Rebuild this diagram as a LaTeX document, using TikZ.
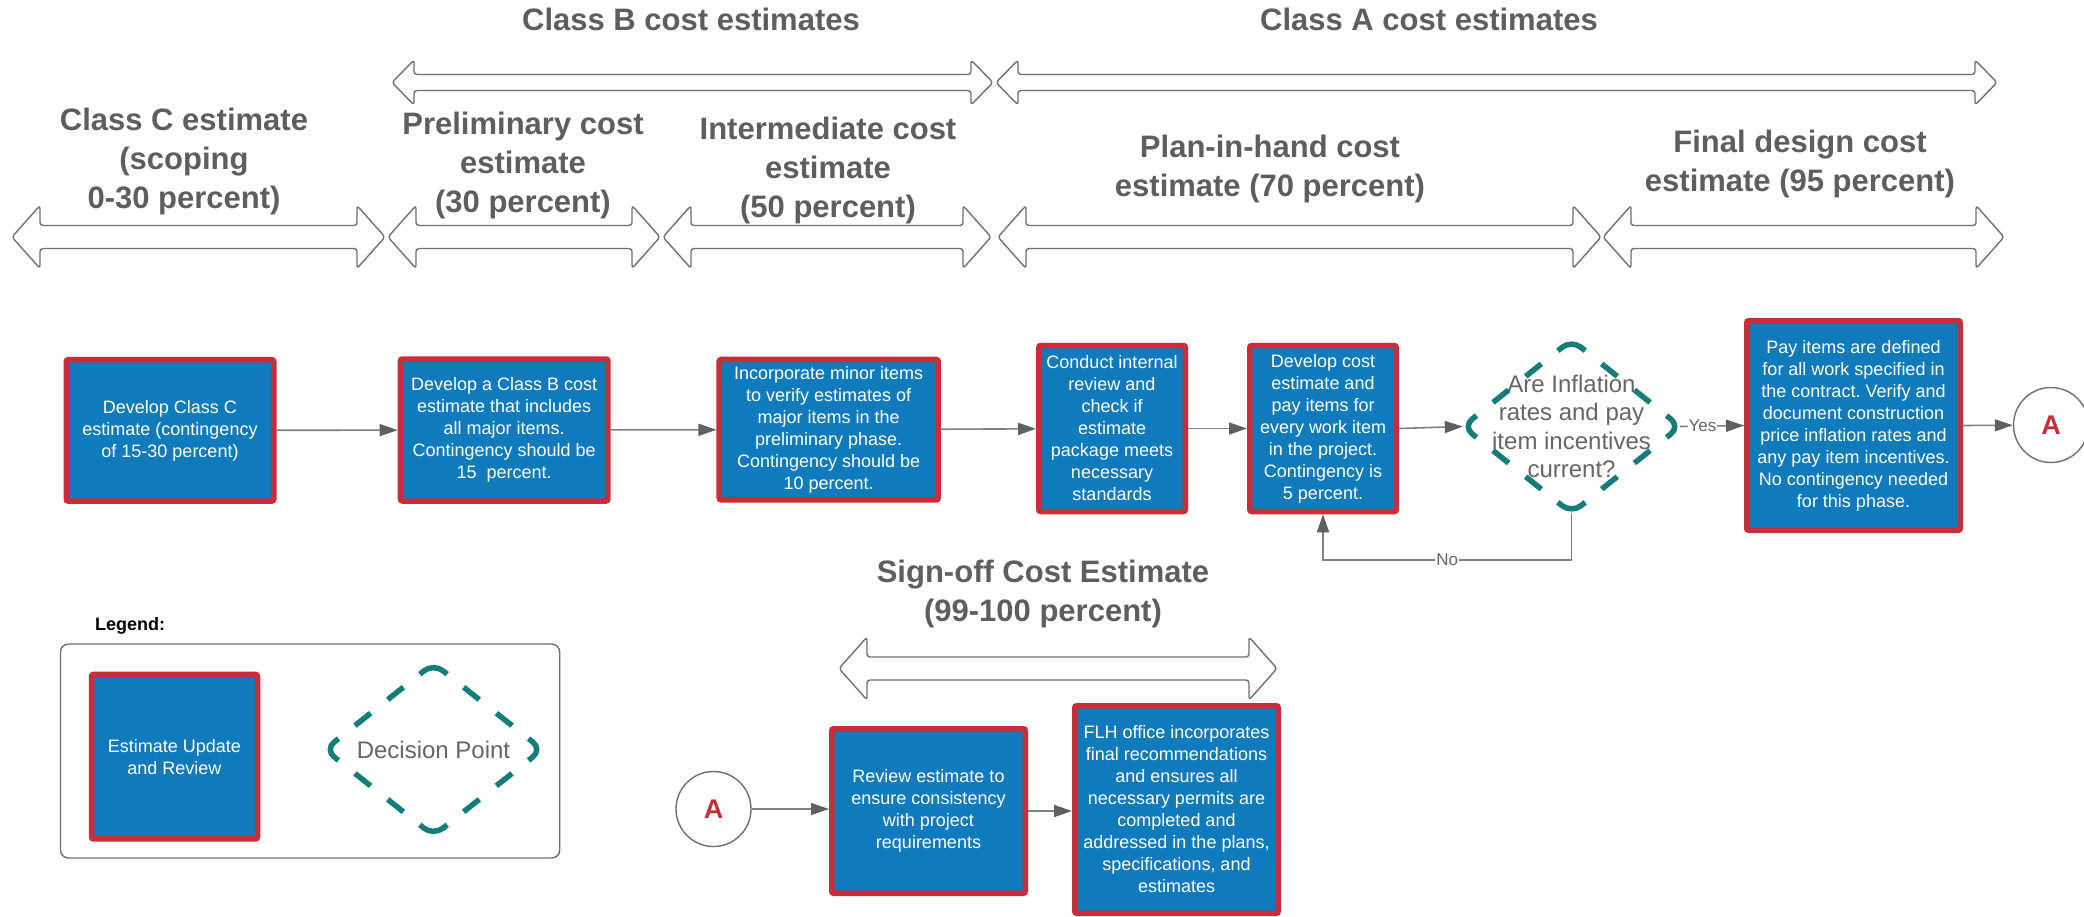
\documentclass[tikz,border=0pt]{standalone}
\usepackage{fontspec}
\setmainfont{Liberation Sans}
\usetikzlibrary{arrows.meta,calc}
\definecolor{boxblue}{HTML}{0F7BBC}
\definecolor{boxred}{HTML}{C92D39}
\definecolor{decteal}{HTML}{137D79}
\definecolor{headgray}{HTML}{5E5E5E}
\definecolor{txtgray}{HTML}{666666}
\definecolor{linegray}{HTML}{808080}
\definecolor{arrowgray}{HTML}{606060}
\definecolor{outgray}{HTML}{707070}
\frenchspacing
\newcommand\dblarr[6]{%
  \draw[dblarrow] (#1,#3) -- (#1+#4,#3-#5) -- (#1+#4,#3-#6) -- (#2-#4,#3-#6) -- (#2-#4,#3-#5) -- (#2,#3)
     -- (#2-#4,#3+#5) -- (#2-#4,#3+#6) -- (#1+#4,#3+#6) -- (#1+#4,#3+#5) -- cycle;}
\newcommand\decdashes[1]{%
  \foreach \a/\b in {north/east,east/south,south/west,west/north}{%
    \draw[decline] ($(#1.\a)!0.2775!(#1.\b)$) -- ($(#1.\a)!0.4216!(#1.\b)$);
    \draw[decline] ($(#1.\a)!0.5784!(#1.\b)$) -- ($(#1.\a)!0.7225!(#1.\b)$);}
  \foreach \p/\v/\n in {west/north/east,north/east/south,east/south/west,south/west/north}{%
    \draw[decline,rounded corners=12pt] ($(#1.\v)!0.126!(#1.\p)$) -- (#1.\v) -- ($(#1.\v)!0.126!(#1.\n)$);}}
\begin{document}
\begin{tikzpicture}[x=1pt,y=-1pt,
  head/.style={font=\bfseries\fontsize{31}{39}\selectfont, text=headgray, align=center, inner sep=0pt},
  ebox/.style={draw=boxred, fill=boxblue, line width=5.5pt, rounded corners=2pt, text=white, align=center,
     font=\fontsize{18}{22}\selectfont, inner sep=0pt},
  decnode/.style={rectangle, inner sep=0pt, minimum width=217pt, minimum height=173pt, text=txtgray,
     align=center, font=\fontsize{24}{28.3}\selectfont},
  decline/.style={draw=decteal, line width=5.5pt, line cap=butt},
  dblarrow/.style={draw=outgray, fill=white, line width=1.4pt, rounded corners=3pt, line join=round},
  conn/.style={draw=linegray, line width=1.6pt, -{Triangle[length=18pt,width=12pt,color=arrowgray]}},
  conncirc/.style={circle, draw=outgray, fill=white, line width=1.4pt, minimum size=75pt, inner sep=0pt,
     text=boxred, font=\bfseries\fontsize{27}{30}\selectfont},
  lbl/.style={fill=white, inner sep=1pt, text=txtgray, font=\fontsize{17}{20}\selectfont}]
\useasboundingbox (0,0) rectangle (2084,917);
\fill[white] (0,0) rectangle (2084,917);

% phase arrows
\dblarr{392}{993}{82.5}{22}{22.5}{8}
\dblarr{996}{1997}{82.5}{22}{22.5}{8}
\dblarr{12}{385}{237}{28}{31.5}{11.5}
\dblarr{388}{660}{237}{28}{31.5}{11.5}
\dblarr{663}{991}{237}{28}{31.5}{11.5}
\dblarr{998}{1601}{237}{28}{31.5}{11.5}
\dblarr{1603}{2004}{237}{28}{31.5}{11.5}
\dblarr{839}{1277}{668.5}{28}{31.5}{11.5}

% headings (base anchor = baseline of last line)
\node[head, anchor=base] (hB) at (691,31) {Class B cost estimates};
\node[head, anchor=base] (hA) at (1429,31) {Class A cost estimates};
\node[head, anchor=base] (hC) at (184,209) {Class C estimate\\(scoping\\0-30 percent)};
\node[head, anchor=base] (hP) at (523,213) {Preliminary cost\\estimate\\(30 percent)};
\node[head, anchor=base] (hI) at (828,218) {Intermediate cost\\estimate\\(50 percent)};
\node[head, anchor=base] (hH) at (1270,197) {Plan-in-hand cost\\estimate (70 percent)};
\node[head, anchor=base] (hF) at (1800,192) {Final design cost\\estimate (95 percent)};
\node[head, anchor=base] (hS) at (1043,621) {Sign-off Cost Estimate\\(99-100 percent)};

% process boxes
\node[ebox, minimum width=207.5pt, minimum height=141.5pt] (b1) at (170,430.4) {Develop Class C\\estimate (contingency\\of 15-30 percent)};
\node[ebox, minimum width=207.5pt, minimum height=142pt] (b2) at (504.2,430) {Develop a Class B cost\\estimate that includes\\all major items.\\Contingency should be\\15\ \ percent.};
\node[ebox, minimum width=219pt, minimum height=140.5pt] (b3) at (828.7,429.7) {Incorporate minor items\\to verify estimates of\\major items in the\\preliminary phase.\\Contingency should be\\10 percent.};
\node[ebox, minimum width=146.5pt, minimum height=166pt] (b4) at (1112,428.5) {Conduct internal\\review and\\check if\\estimate\\package meets\\necessary\\standards};
\node[ebox, minimum width=146.5pt, minimum height=166pt] (b5) at (1323,428.5) {Develop cost\\estimate and\\pay items for\\every work item\\in the project.\\Contingency is\\5 percent.};
\node[decnode] (dec) at (1571.5,426.5) {Are Inflation\\rates and pay\\item incentives\\current?};
\decdashes{dec}
\node[ebox, minimum width=213.5pt, minimum height=209.5pt] (pay) at (1853.5,425.5) {Pay items are defined\\for all work specified in\\the contract. Verify and\\document construction\\price inflation rates and\\any pay item incentives.\\No contingency needed\\for this phase.};
\node[conncirc] (ca1) at (2051,425) {A};

\node[conncirc] (ca2) at (713.5,809) {A};
\node[ebox, minimum width=193.5pt, minimum height=164.5pt] (rev) at (928.5,811) {Review estimate to\\ensure consistency\\with project\\requirements};
\node[ebox, minimum width=203.5pt, minimum height=207.5pt] (flh) at (1176.5,809.5) {FLH office incorporates\\final recommendations\\and ensures all\\necessary permits are\\completed and\\addressed in the plans,\\specifications, and\\estimates};

% connectors
\draw[conn] (b1) -- (b2);
\draw[conn] (b2) -- (b3);
\draw[conn] (b3) -- (b4);
\draw[conn] (b4) -- (b5);
\draw[conn] (b5.east) -- (dec.west);
\draw[conn] (dec.east) -- node[lbl, pos=0.35] {Yes} (pay.west);
\draw[conn] (pay.east) -- (ca1);
\draw[conn] (dec.south) -- ++(0,47) -| node[lbl, pos=0.25] {No} (b5.south);
\draw[conn] (ca2.east) -- (ca2.east -| rev.west);
\draw[conn] (rev.east) -- (rev.east -| flh.west);

% legend
\node[anchor=base west, inner sep=0pt, font=\bfseries\fontsize{18}{20}\selectfont] (legt) at (95,630) {Legend:};
\draw[draw=outgray, line width=1.4pt, rounded corners=8pt] (60.5,644) rectangle (559.7,858);
\node[ebox, minimum width=166pt, minimum height=164.5pt] (legbox) at (174.5,756.7) {Estimate Update\\and Review};
\node[decnode, minimum height=172pt] (legdec) at (433.5,749.5) {Decision Point};
\decdashes{legdec}
\end{tikzpicture}
\end{document}
